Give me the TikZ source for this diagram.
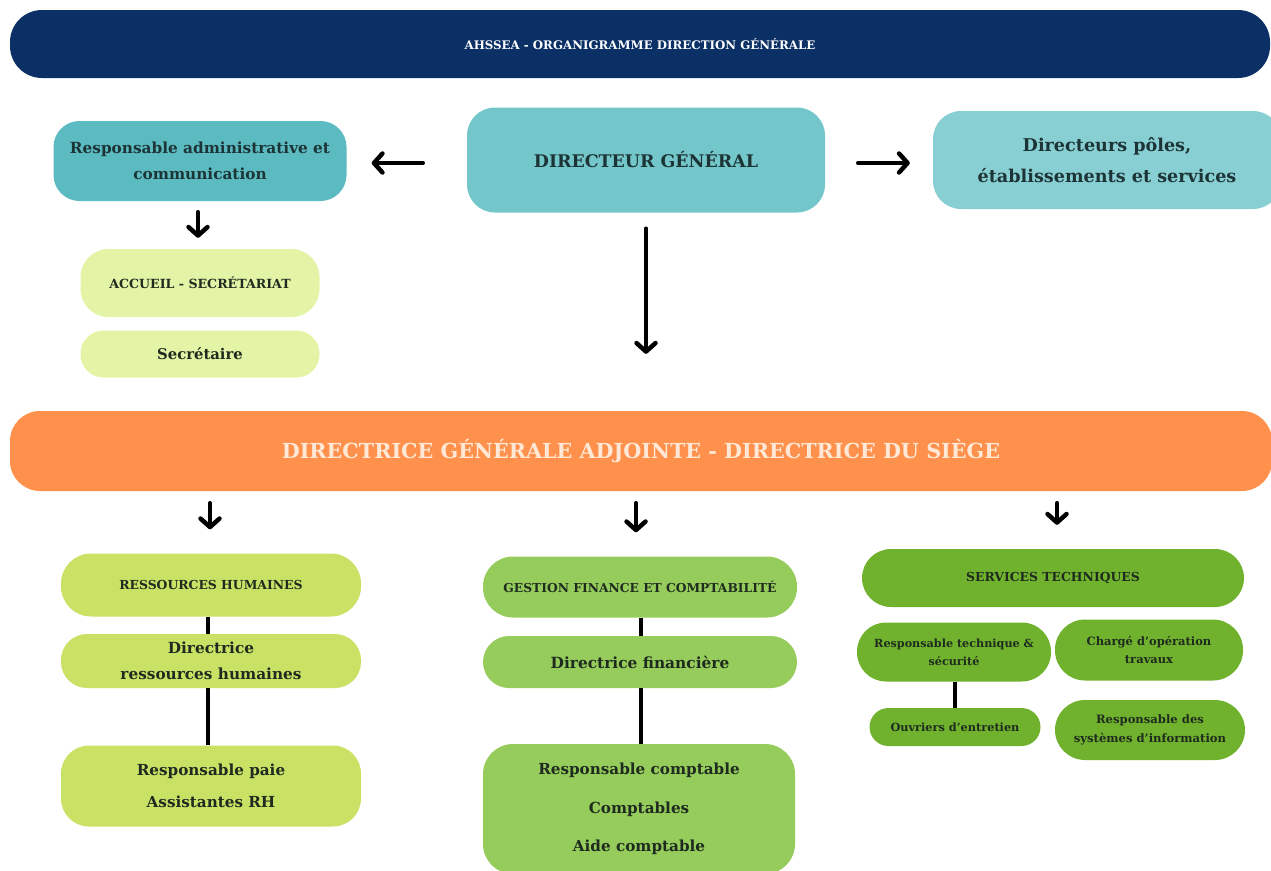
\documentclass[tikz,border=0pt]{standalone}
\usepackage{fontspec}
\setmainfont{DejaVu Serif}
\usetikzlibrary{arrows.meta, positioning}

\definecolor{navy}{HTML}{0B3066}
\definecolor{dgteal}{HTML}{73C6CA}
\definecolor{admteal}{HTML}{5BBBC1}
\definecolor{poleteal}{HTML}{88CFD3}
\definecolor{paleyellow}{HTML}{E3F4A6}
\definecolor{dgaorange}{HTML}{FF914D}
\definecolor{rhgreen}{HTML}{C9E265}
\definecolor{fingreen}{HTML}{95CC5B}
\definecolor{techgreen}{HTML}{70B22D}
\definecolor{ink}{HTML}{1E2B1E}
\definecolor{tealink}{HTML}{1D3436}
\definecolor{peach}{HTML}{FFE9D6}

\newcommand{\fs}[2]{\fontsize{#1}{#2}\selectfont\bfseries}

\begin{document}
\begin{tikzpicture}[x=1pt,y=-1pt,
 box/.style={rectangle, rounded corners=26pt, inner sep=0pt, align=center, text=ink},
 arr/.style={-{Straight Barb[length=8.5pt,width=19pt,round]}, line width=4.5pt, line cap=round},
 link/.style={line width=4.5pt}]
 \clip (0,0) rectangle (1271,870);
 \useasboundingbox (0,0) rectangle (1271,870);

 % top row
 \node[box, fill=navy, text=white, minimum width=1260pt, minimum height=68pt, rounded corners=32pt,
   font=\fs{11.8}{14}] (head) at (640,44) {AHSSEA - ORGANIGRAMME DIRECTION GÉNÉRALE};
 \node[box, fill=dgteal, text=tealink, minimum width=358pt, minimum height=105pt, rounded corners=28pt,
   font=\fs{17.4}{22}] (dg) at (646,160) {DIRECTEUR GÉNÉRAL};
 \node[box, fill=admteal, text=tealink, minimum width=293pt, minimum height=80pt, rounded corners=26pt,
   font=\fs{15.3}{26}] (adm) at (200,161) {Responsable administrative et\\communication};
 \node[box, fill=poleteal, text=tealink, minimum width=348pt, minimum height=98pt, rounded corners=28pt,
   font=\fs{17.6}{31}] (poles) at (1107,160) {Directeurs pôles,\\établissements et services};
 \node[box, fill=paleyellow, minimum width=239pt, minimum height=68pt, rounded corners=28pt,
   font=\fs{12.6}{15}] (accueil) at (200,283) {ACCUEIL - SECRÉTARIAT};
 \node[box, fill=paleyellow, minimum width=239pt, minimum height=47pt, rounded corners=23pt,
   font=\fs{14.8}{17}] (secr) at (200,354) {Secrétaire};

 % directrice adjointe
 \node[box, fill=dgaorange, text=peach, minimum width=1262pt, minimum height=80pt, rounded corners=30pt,
   font=\fs{20.7}{25}] (dga) at (641,451) {DIRECTRICE GÉNÉRALE ADJOINTE - DIRECTRICE DU SIÈGE};

 % ressources humaines
 \node[box, fill=rhgreen, minimum width=300pt, minimum height=63pt, rounded corners=30pt,
   font=\fs{12.4}{15}] (rh) at (211,585) {RESSOURCES HUMAINES};
 \node[box, fill=rhgreen, minimum width=300pt, minimum height=54pt, rounded corners=26pt,
   font=\fs{15.3}{26}] (drh) at (211,661) {Directrice\\ressources humaines};
 \node[box, fill=rhgreen, minimum width=300pt, minimum height=81pt, rounded corners=28pt,
   font=\fs{15.2}{32}] (paie) at (211,786) {Responsable paie\\Assistantes RH};

 % finance
 \node[box, fill=fingreen, minimum width=314pt, minimum height=61pt, rounded corners=30pt,
   font=\fs{12.3}{15}] (gfc) at (640,587) {GESTION FINANCE ET COMPTABILITÉ};
 \node[box, fill=fingreen, minimum width=314pt, minimum height=52pt, rounded corners=26pt,
   font=\fs{15.4}{17}] (dfin) at (640,662) {Directrice financière};
 \node[box, fill=fingreen, minimum width=312pt, minimum height=130pt, rounded corners=30pt,
   font=\fs{15.2}{38.5}] (compta) at (639,809) {Responsable comptable\\Comptables\\Aide comptable};

 % services techniques
 \node[box, fill=techgreen, minimum width=382pt, minimum height=58pt, rounded corners=29pt,
   font=\fs{12.4}{15}] (st) at (1053,578) {SERVICES TECHNIQUES};
 \node[box, fill=techgreen, minimum width=194pt, minimum height=59pt, rounded corners=29pt,
   font=\fs{11.2}{18}] (rts) at (954,652) {Responsable technique \&\\sécurité};
 \node[box, fill=techgreen, minimum width=188pt, minimum height=61pt, rounded corners=30pt,
   font=\fs{11.5}{18}] (cot) at (1149,650) {Chargé d'opération\\travaux};
 \node[box, fill=techgreen, minimum width=171pt, minimum height=38pt, rounded corners=19pt,
   font=\fs{11.3}{13}] (ouv) at (955,727) {Ouvriers d'entretien};
 \node[box, fill=techgreen, minimum width=190pt, minimum height=60pt, rounded corners=30pt,
   font=\fs{11.6}{19}] (rsi) at (1150,730) {Responsable des\\systèmes d’information};

 % arrows
 \draw[arr, shorten <=44pt, shorten >=25pt] ([yshift=-3pt]dg.west) -- ([yshift=-3pt]dg.west -| adm.east);
 \draw[arr, shorten <=33pt, shorten >=23pt] ([yshift=-3pt]dg.east) -- ([yshift=-3pt]dg.east -| poles.west);
 \draw[arr, shorten <=11pt, shorten >=11pt] ([xshift=-2pt]adm.south) -- ([xshift=-2pt]accueil.north);
 \draw[arr, shorten <=16pt, shorten >=57pt] (dg.south) -- (dg.south |- dga.north);
 \foreach \t/\x in {rh/210, gfc/636, st/1057}{
   \draw[arr, shorten <=12pt, shorten >=24pt] (dga.south -| \x,0) -- (\t.north -| \x,0);}

 % links
 \foreach \s/\t in {rh/drh, drh/paie}{
   \draw[link] ([xshift=-3pt]\s.south) -- ([xshift=-3pt]\t.north);}
 \foreach \s/\t in {gfc/dfin, dfin/compta}{
   \draw[link] ([xshift=1pt]\s.south) -- ([xshift=1pt]\s.south |- \t.north);}
 \draw[link] ([xshift=1pt]rts.south) -- ([xshift=1pt]rts.south |- ouv.north);
\end{tikzpicture}
\end{document}
